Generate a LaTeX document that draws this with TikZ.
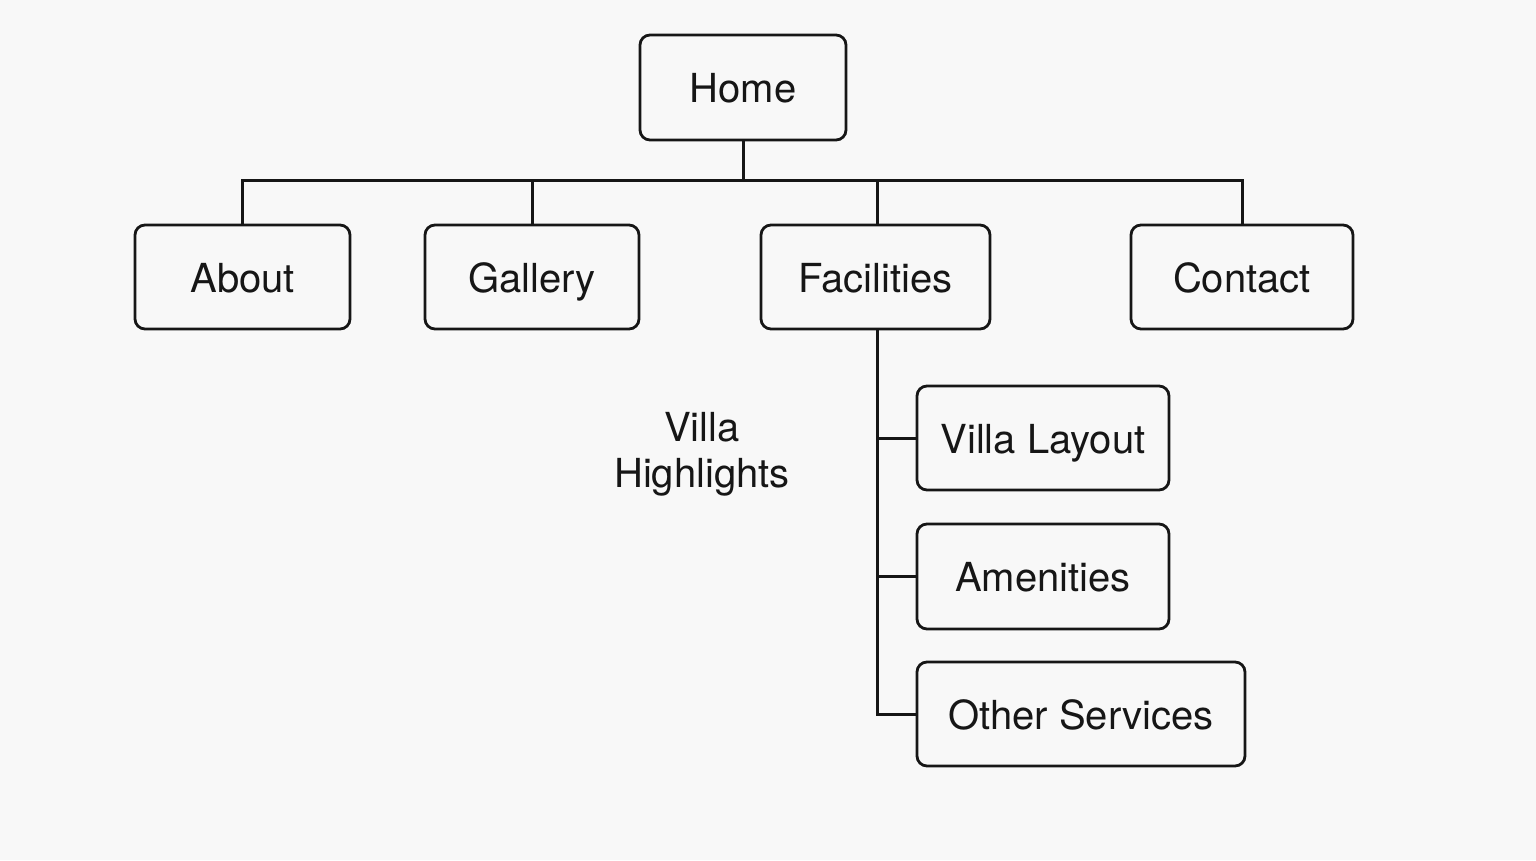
\documentclass[tikz,border=0pt]{standalone}
\usepackage{fontspec}
\setmainfont{TeX Gyre Heros}
\definecolor{bg}{HTML}{F8F8F8}
\definecolor{ink}{HTML}{161616}
\begin{document}
\begin{tikzpicture}[x=1pt,y=-1pt,
  box/.style={draw=ink,line width=2.8pt,rounded corners=10pt,anchor=center,inner sep=0pt,text height=30pt,text depth=0pt,font=\fontsize{40}{46}\selectfont,text=ink},
  wire/.style={draw=ink,line width=3pt}]
\fill[bg] (0,0) rectangle (1536,860);
\useasboundingbox (0,0) rectangle (1536,860);
\node[box,minimum width=206pt,minimum height=105pt] (home) at (743,87.5) {Home};
\node[box,minimum width=215pt,minimum height=104pt] (about) at (242.5,277) {About};
\node[box,minimum width=214pt,minimum height=104pt] (gallery) at (532,277) {Gallery};
\node[box,minimum width=229pt,minimum height=104pt] (fac) at (875.5,277) {Facilities};
\node[box,minimum width=222pt,minimum height=104pt] (contact) at (1242,277) {Contact};
\node[box,minimum width=252pt,minimum height=104pt] (villa) at (1043,438) {Villa Layout};
\node[box,minimum width=252pt,minimum height=105pt] (amen) at (1043,576.5) {Amenities};
\node[box,minimum width=328pt,minimum height=104pt] (other) at (1081,714) {Other Services};
\node[font=\fontsize{40}{46}\selectfont,text=ink,align=center] (hl) at (702,454) {Villa\\Highlights};
\coordinate (bus) at (743,180);
\draw[wire] (home.south) -- (bus);
\draw[wire] (about.north) -- (about.north |- bus) -- (contact.north |- bus) -- (contact.north);
\draw[wire] (gallery.north) -- (gallery.north |- bus);
\draw[wire] (877,180) -- (877,225);
\coordinate (trunk) at (877,329);
\draw[wire] (trunk) -- (trunk |- other.west) -- (other.west);
\draw[wire] (trunk |- villa.west) -- (villa.west);
\draw[wire] (trunk |- amen.west) -- (amen.west);
\end{tikzpicture}
\end{document}
